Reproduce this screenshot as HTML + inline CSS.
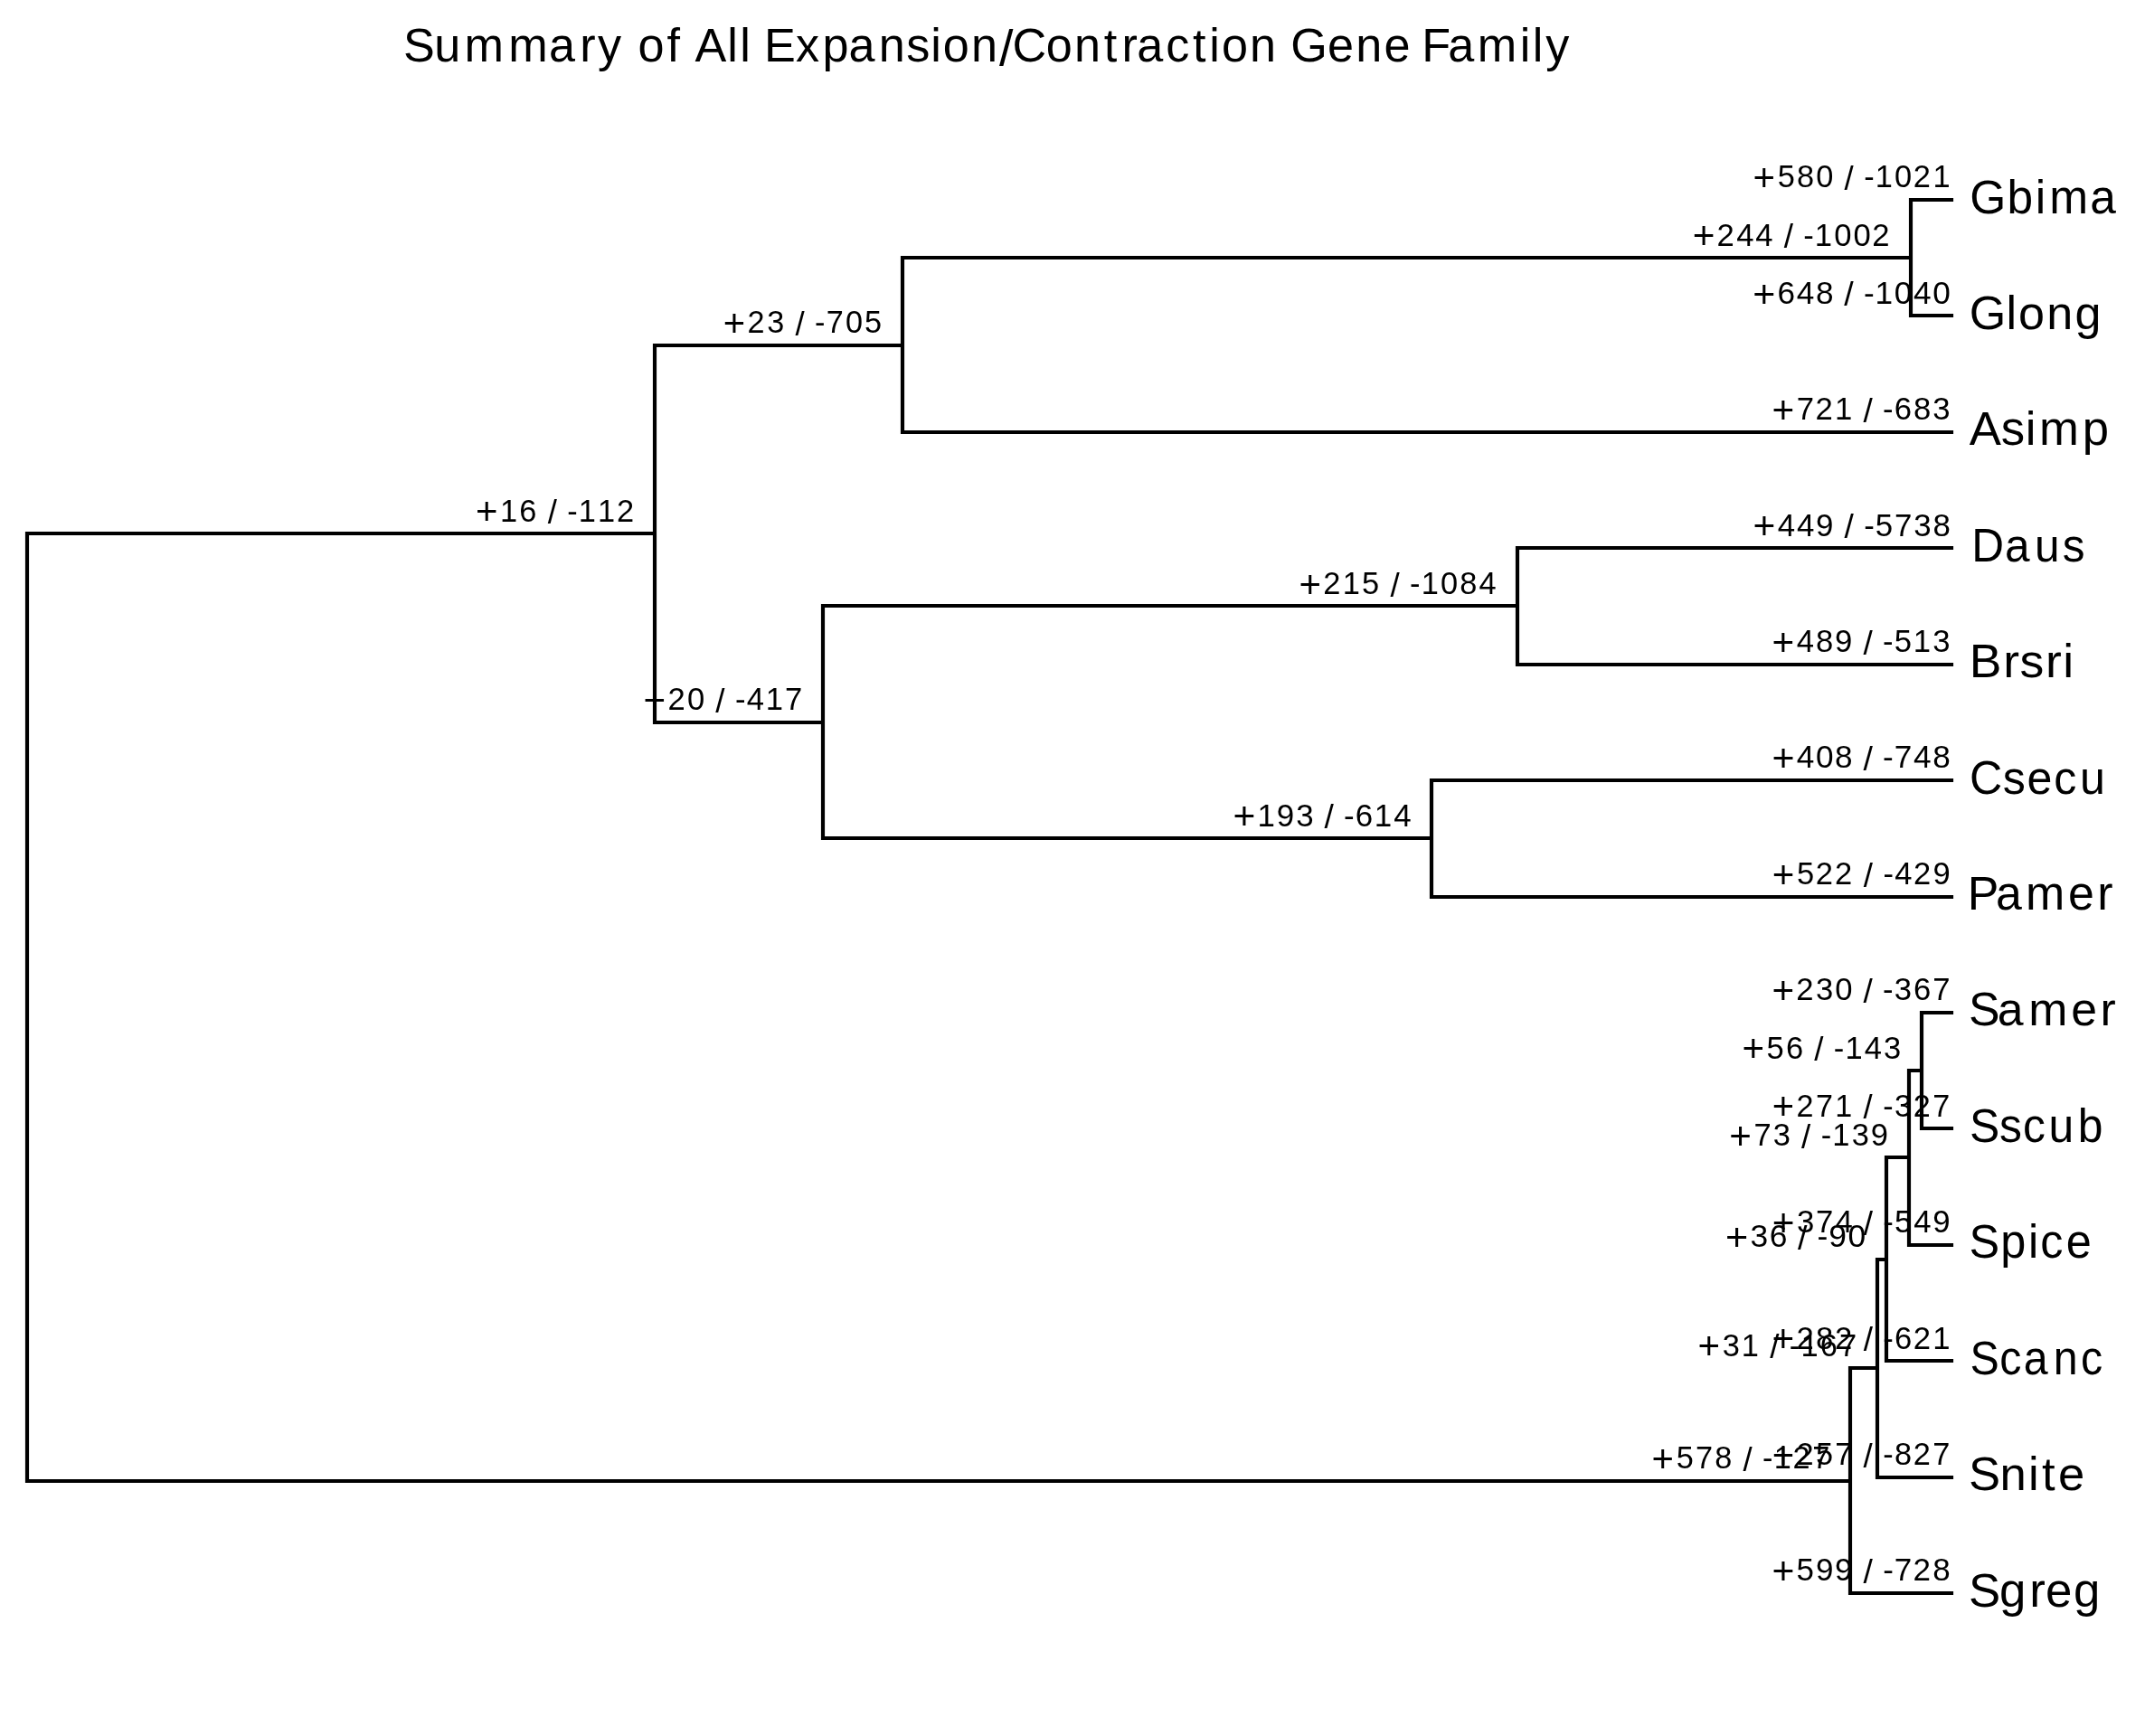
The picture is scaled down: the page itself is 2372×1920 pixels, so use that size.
<!DOCTYPE html>
<html><head><meta charset="utf-8"><title>Summary of All Expansion/Contraction Gene Family</title><style>
html,body{margin:0;padding:0;background:#fff;}
svg{display:block;will-change:transform;}
text{font-family:"Liberation Sans",sans-serif;fill:#000;}
</style></head><body>
<svg width="2372" height="1920" viewBox="0 0 2372 1920">
<path d="M2125 1120L2125 1248M2125 1120L2158 1120M2125 1248L2158 1248M2111 1184L2111 1377M2111 1184L2125 1184M2111 1377L2158 1377M2086 1280L2086 1505M2086 1280L2111 1280M2086 1505L2158 1505M2076 1393L2076 1634M2076 1393L2086 1393M2076 1634L2158 1634M2046 1513L2046 1762M2046 1513L2076 1513M2046 1762L2158 1762M2113 221L2113 349M2113 221L2158 221M2113 349L2158 349M998 285L998 478M998 285L2113 285M998 478L2158 478M1678 606L1678 735M1678 606L2158 606M1678 735L2158 735M1583 863L1583 992M1583 863L2158 863M1583 992L2158 992M910 670L910 927M910 670L1678 670M910 927L1583 927M724 382L724 799M724 382L998 382M724 799L910 799M30 590L30 1638M30 590L724 590M30 1638L2046 1638" stroke="#000" stroke-width="4.17" stroke-linecap="square" fill="none"/>
<text id="a0" transform="scale(0.9833,1)" font-size="35.0"><tspan x="1971.5" y="211.2" font-size="42.7">+</tspan><tspan x="1999.1 2020.8 2042.4 2062.9" y="207.4">580 </tspan><tspan x="2074.2" y="210.1" font-size="37.3">/</tspan><tspan x="2085.1 2096.2 2109.0 2130.7 2151.8 2173.7" y="207.4"> -1021</tspan></text>
<text id="a1" transform="scale(1.0060,1)" font-size="35.0"><tspan x="1926.7" y="339.6" font-size="42.7">+</tspan><tspan x="1953.8 1974.9 1996.0 2016.3" y="335.8">648 </tspan><tspan x="2027.2" y="338.5" font-size="37.3">/</tspan><tspan x="2038.0 2048.7 2061.1 2082.3 2103.4 2124.5" y="335.8"> -1040</tspan></text>
<text id="a2" transform="scale(0.9913,1)" font-size="35.0"><tspan x="1976.6" y="468.0" font-size="42.7">+</tspan><tspan x="2004.1 2025.1 2046.8 2067.4" y="464.2">721 </tspan><tspan x="2078.6" y="467.0" font-size="37.3">/</tspan><tspan x="2089.4 2100.3 2113.2 2134.6 2156.0" y="464.2"> -683</tspan></text>
<text id="a3" transform="scale(0.9957,1)" font-size="35.0"><tspan x="1946.9" y="596.4" font-size="42.7">+</tspan><tspan x="1974.3 1995.6 2016.8 2037.3" y="592.7">449 </tspan><tspan x="2048.4" y="595.4" font-size="37.3">/</tspan><tspan x="2059.2 2070.1 2082.7 2104.1 2125.5 2146.7" y="592.7"> -5738</tspan></text>
<text id="a4" transform="scale(0.9912,1)" font-size="35.0"><tspan x="1976.9" y="724.8" font-size="42.7">+</tspan><tspan x="2004.4 2025.8 2047.1 2067.6" y="721.1">489 </tspan><tspan x="2078.8" y="723.8" font-size="37.3">/</tspan><tspan x="2089.6 2100.6 2113.3 2134.6 2156.2" y="721.1"> -513</tspan></text>
<text id="a5" transform="scale(1.0058,1)" font-size="35.0"><tspan x="1948.1" y="853.3" font-size="42.7">+</tspan><tspan x="1975.3 1996.4 2017.4 2037.7" y="849.5">408 </tspan><tspan x="2048.7" y="852.2" font-size="37.3">/</tspan><tspan x="2059.4 2070.1 2082.6 2103.8 2124.9" y="849.5"> -748</tspan></text>
<text id="a6" transform="scale(0.9858,1)" font-size="35.0"><tspan x="1988.1" y="981.7" font-size="42.7">+</tspan><tspan x="2015.6 2036.8 2058.3 2079.3" y="977.9">522 </tspan><tspan x="2090.5" y="980.6" font-size="37.3">/</tspan><tspan x="2101.4 2112.4 2125.4 2146.4 2168.3" y="977.9"> -429</tspan></text>
<text id="a7" transform="scale(0.9900,1)" font-size="35.0"><tspan x="1979.3" y="1110.1" font-size="42.7">+</tspan><tspan x="2006.4 2028.3 2049.7 2070.1" y="1106.3">230 </tspan><tspan x="2081.3" y="1109.1" font-size="37.3">/</tspan><tspan x="2092.2 2103.1 2116.0 2137.4 2158.8" y="1106.3"> -367</tspan></text>
<text id="a8" transform="scale(0.9751,1)" font-size="35.0"><tspan x="2009.7" y="1238.5" font-size="42.7">+</tspan><tspan x="2037.2 2059.3 2081.0 2101.8" y="1234.8">271 </tspan><tspan x="2113.2" y="1237.5" font-size="37.3">/</tspan><tspan x="2124.1 2135.4 2148.5 2169.8 2191.9" y="1234.8"> -327</tspan></text>
<text id="a9" transform="scale(0.9928,1)" font-size="35.0"><tspan x="1973.9" y="1366.9" font-size="42.7">+</tspan><tspan x="2001.4 2022.6 2044.1 2064.5" y="1363.2">374 </tspan><tspan x="2075.6" y="1365.9" font-size="37.3">/</tspan><tspan x="2086.5 2097.4 2110.1 2131.5 2152.8" y="1363.2"> -549</tspan></text>
<text id="a10" transform="scale(0.9898,1)" font-size="35.0"><tspan x="1979.8" y="1495.4" font-size="42.7">+</tspan><tspan x="2006.9 2028.8 2049.8 2070.7" y="1491.6">282 </tspan><tspan x="2081.9" y="1494.3" font-size="37.3">/</tspan><tspan x="2092.8 2103.7 2116.6 2137.6 2159.3" y="1491.6"> -621</tspan></text>
<text id="a11" transform="scale(0.9810,1)" font-size="35.0"><tspan x="1997.6" y="1623.8" font-size="42.7">+</tspan><tspan x="2024.9 2046.8 2068.5 2089.1" y="1620.0">257 </tspan><tspan x="2100.5" y="1622.7" font-size="37.3">/</tspan><tspan x="2111.4 2122.5 2135.5 2156.7 2178.7" y="1620.0"> -827</tspan></text>
<text id="a12" transform="scale(0.9999,1)" font-size="35.0"><tspan x="1959.7" y="1752.2" font-size="42.7">+</tspan><tspan x="1986.8 2008.1 2029.3 2049.7" y="1748.4">599 </tspan><tspan x="2060.8" y="1751.2" font-size="37.3">/</tspan><tspan x="2071.6 2082.4 2095.0 2115.8 2137.5" y="1748.4"> -728</tspan></text>
<text id="a13" transform="scale(0.9872,1)" font-size="35.0"><tspan x="1951.4" y="1174.3" font-size="42.7">+</tspan><tspan x="1978.9 2000.5 2021.0" y="1170.6">56 </tspan><tspan x="2032.3" y="1173.3" font-size="37.3">/</tspan><tspan x="2043.1 2054.1 2066.9 2088.5 2110.1" y="1170.6"> -143</tspan></text>
<text id="a14" transform="scale(0.9857,1)" font-size="35.0"><tspan x="1940.1" y="1270.6" font-size="42.7">+</tspan><tspan x="1967.7 1989.3 2009.8" y="1266.9">73 </tspan><tspan x="2021.0" y="1269.6" font-size="37.3">/</tspan><tspan x="2031.9 2042.9 2055.7 2077.5 2098.8" y="1266.9"> -139</tspan></text>
<text id="a15" transform="scale(1.0125,1)" font-size="35.0"><tspan x="1884.5" y="1383.0" font-size="42.7">+</tspan><tspan x="1911.6 1932.5 1952.7" y="1379.2">36 </tspan><tspan x="1963.5" y="1382.0" font-size="37.3">/</tspan><tspan x="1974.2 1984.8 1997.2 2018.3" y="1379.2"> -90</tspan></text>
<text id="a16" transform="scale(0.9855,1)" font-size="35.0"><tspan x="1905.2" y="1503.4" font-size="42.7">+</tspan><tspan x="1932.9 1954.2 1974.9" y="1499.6">31 </tspan><tspan x="1986.1" y="1502.4" font-size="37.3">/</tspan><tspan x="1997.0 2008.0 2020.8 2042.5 2064.0" y="1499.6"> -167</tspan></text>
<text id="a17" transform="scale(0.9798,1)" font-size="35.0"><tspan x="1864.2" y="1627.8" font-size="42.7">+</tspan><tspan x="1891.9 1913.6 1935.3 1955.9" y="1624.0">578 </tspan><tspan x="1967.2" y="1626.8" font-size="37.3">/</tspan><tspan x="1978.2 1989.3 2002.2 2023.5 2045.5" y="1624.0"> -127</tspan></text>
<text id="a18" transform="scale(0.9908,1)" font-size="35.0"><tspan x="1889.1" y="275.4" font-size="42.7">+</tspan><tspan x="1916.1 1938.0 1959.4 1979.8" y="271.6">244 </tspan><tspan x="1991.0" y="274.3" font-size="37.3">/</tspan><tspan x="2001.9 2012.8 2025.5 2047.1 2068.5 2089.4" y="271.6"> -1002</tspan></text>
<text id="a19" transform="scale(0.9781,1)" font-size="35.0"><tspan x="817.6" y="371.7" font-size="42.7">+</tspan><tspan x="845.0 867.2 887.7" y="367.9">23 </tspan><tspan x="899.1" y="370.7" font-size="37.3">/</tspan><tspan x="910.0 921.2 934.2 955.9 977.5" y="367.9"> -705</tspan></text>
<text id="a20" transform="scale(0.9835,1)" font-size="35.0"><tspan x="1460.6" y="660.6" font-size="42.7">+</tspan><tspan x="1487.9 1509.7 1531.3 1552.0" y="656.9">215 </tspan><tspan x="1563.3" y="659.6" font-size="37.3">/</tspan><tspan x="1574.2 1585.2 1598.1 1619.8 1641.4 1662.9" y="656.9"> -1084</tspan></text>
<text id="a21" transform="scale(0.9971,1)" font-size="35.0"><tspan x="1367.4" y="917.5" font-size="42.7">+</tspan><tspan x="1394.6 1415.9 1437.4 1457.7" y="913.7">193 </tspan><tspan x="1468.8" y="916.4" font-size="37.3">/</tspan><tspan x="1479.6 1490.4 1503.2 1524.3 1545.7" y="913.7"> -614</tspan></text>
<text id="a22" transform="scale(0.9882,1)" font-size="35.0"><tspan x="720.1" y="789.0" font-size="42.7">+</tspan><tspan x="747.2 769.1 789.6" y="785.3">20 </tspan><tspan x="800.8" y="788.0" font-size="37.3">/</tspan><tspan x="811.7 822.6 835.5 856.8 878.4" y="785.3"> -417</tspan></text>
<text id="a23" transform="scale(0.9823,1)" font-size="35.0"><tspan x="535.4" y="580.4" font-size="42.7">+</tspan><tspan x="562.9 584.7 605.2" y="576.6">16 </tspan><tspan x="616.6" y="579.3" font-size="37.3">/</tspan><tspan x="627.5 638.5 651.4 673.0 694.3" y="576.6"> -112</tspan></text>
<text id="l0" transform="scale(0.9806,1)" font-size="52.5"><tspan x="2221.4 2263.5 2295.2 2311.2 2356.9" y="235.6">Gbima</tspan></text>
<text id="l1" transform="scale(0.9925,1)" font-size="52.5"><tspan x="2194.1 2235.2 2248.9 2280.4 2311.9" y="364.0">Glong</tspan></text>
<text id="l2" transform="scale(1.0037,1)" font-size="52.5"><tspan x="2169.7 2204.7 2231.5 2246.7 2294.2" y="492.4">Asimp</tspan></text>
<text id="l3" transform="scale(0.9446,1)" font-size="52.5"><tspan x="2308.2 2347.1 2381.9 2414.4" y="620.9">Daus</tspan></text>
<text id="l4" transform="scale(1.0193,1)" font-size="52.5"><tspan x="2136.6 2173.3 2191.2 2219.1 2238.0" y="749.3">Brsri</tspan></text>
<text id="l5" transform="scale(0.9559,1)" font-size="52.5"><tspan x="2278.5 2316.9 2344.9 2376.1 2406.1" y="877.7">Csecu</tspan></text>
<text id="l6" transform="scale(0.9880,1)" font-size="52.5"><tspan x="2202.3 2233.9 2267.3 2314.8 2347.5" y="1006.1">Pamer</tspan></text>
<text id="l7" transform="scale(0.9870,1)" font-size="52.5"><tspan x="2205.6 2237.9 2272.9 2320.4 2353.1" y="1134.5">Samer</tspan></text>
<text id="l8" transform="scale(0.9498,1)" font-size="52.5"><tspan x="2293.0 2327.9 2355.2 2385.3 2419.2" y="1263.0">Sscub</tspan></text>
<text id="l9" transform="scale(0.9609,1)" font-size="52.5"><tspan x="2266.2 2302.2 2334.4 2348.0 2377.6" y="1391.4">Spice</tspan></text>
<text id="l10" transform="scale(0.9211,1)" font-size="52.5"><tspan x="2365.1 2400.7 2429.4 2465.3 2498.2" y="1519.8">Scanc</tspan></text>
<text id="l11" transform="scale(1.0029,1)" font-size="52.5"><tspan x="2170.6 2205.0 2236.4 2251.5 2269.5" y="1648.2">Snite</tspan></text>
<text id="l12" transform="scale(1.0060,1)" font-size="52.5"><tspan x="2164.0 2197.8 2230.9 2248.6 2279.3" y="1776.6">Sgreg</tspan></text>
<text id="title" transform="scale(0.9941,1)" font-size="52.5"><tspan x="448.6 483.1 516.5 565.5 610.6 645.1 665.0 693.0 709.8 741.9 757.4 773.1 809.0 823.0 835.8 850.0 885.2 915.0 944.2 977.5 1008.3 1035.3 1048.9 1080.4" y="68.4">Summary of All Expansion</tspan><tspan x="1111.5" y="72.5" font-size="56.0">/</tspan><tspan x="1126.1 1163.7 1195.1 1227.9 1247.8 1264.8 1296.8 1326.8 1345.3 1358.9 1390.3 1420.7 1435.8 1476.7 1508.1 1539.5 1569.5 1581.7 1610.8 1643.4 1690.8 1704.7 1719.3" y="68.4">Contraction Gene Family</tspan></text>
</svg>
</body></html>
